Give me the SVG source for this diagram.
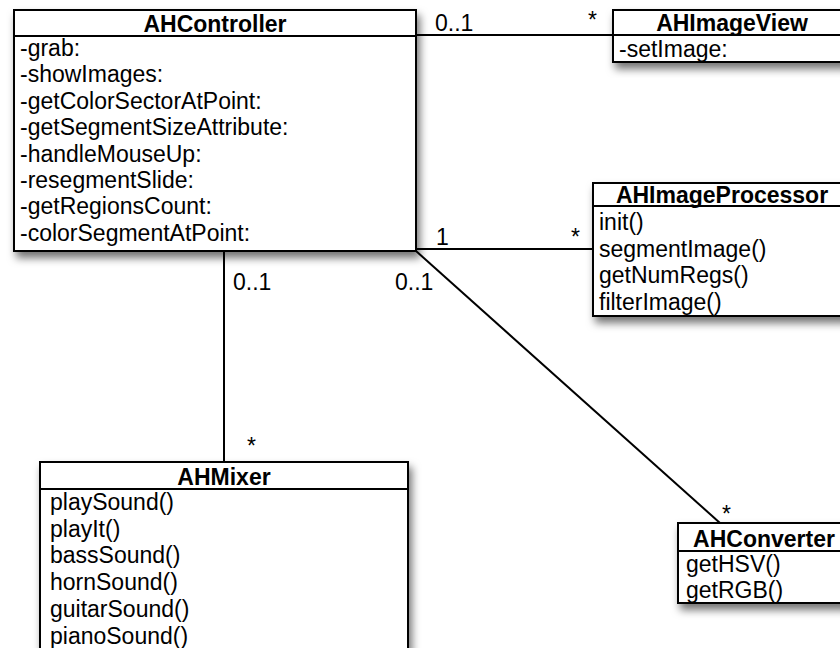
<svg xmlns="http://www.w3.org/2000/svg" width="840" height="648" viewBox="0 0 840 648">
<style>
text{font-family:"Liberation Sans",Arial,Helvetica,sans-serif;font-size:23px;fill:#000}
.t{font-weight:bold;text-anchor:middle}
.box{fill:#fff;stroke:#000;stroke-width:2}
.sep{stroke:#000;stroke-width:2}
.c{stroke:#000;stroke-width:2;fill:none}
</style>
<defs>
<filter id="sh" x="-10%" y="-10%" width="130%" height="140%">
<feDropShadow dx="3" dy="6" stdDeviation="4" flood-color="#000" flood-opacity="0.55"/>
</filter>
</defs>
<g id="connectors">
<line class="c" x1="416" y1="35" x2="613" y2="35"/>
<line class="c" x1="416" y1="249" x2="593" y2="249"/>
<line class="c" x1="224" y1="251" x2="224" y2="462"/>
<line class="c" x1="416" y1="251" x2="720" y2="523"/>
<text x="435" y="31">0..1</text>
<text x="588" y="28">*</text>
<text x="436" y="245">1</text>
<text x="571" y="245">*</text>
<text x="233" y="290">0..1</text>
<text x="395" y="290">0..1</text>
<text x="247" y="454">*</text>
<text x="722" y="522">*</text>
</g>
<g id="AHController">
<rect class="box" filter="url(#sh)" x="14" y="10" width="402" height="241"/>
<line class="sep" x1="14" y1="36" x2="416" y2="36"/>
<text class="t" x="215" y="32">AHController</text>
<text x="20" y="56">-grab:</text>
<text x="20" y="82.4">-showImages:</text>
<text x="20" y="108.8">-getColorSectorAtPoint:</text>
<text x="20" y="135.2">-getSegmentSizeAttribute:</text>
<text x="20" y="161.6">-handleMouseUp:</text>
<text x="20" y="188">-resegmentSlide:</text>
<text x="20" y="214.4">-getRegionsCount:</text>
<text x="20" y="240.8">-colorSegmentAtPoint:</text>
</g>
<g id="AHImageView">
<rect class="box" filter="url(#sh)" x="613" y="10" width="238" height="52"/>
<line class="sep" x1="613" y1="35" x2="851" y2="35"/>
<text class="t" x="732" y="31">AHImageView</text>
<text x="619" y="57">-setImage:</text>
</g>
<g id="AHImageProcessor">
<rect class="box" filter="url(#sh)" x="593" y="183" width="259" height="133"/>
<line class="sep" x1="593" y1="206" x2="852" y2="206"/>
<text class="t" x="722" y="203">AHImageProcessor</text>
<text x="599" y="230">init()</text>
<text x="599" y="256.5">segmentImage()</text>
<text x="599" y="283">getNumRegs()</text>
<text x="599" y="309.5">filterImage()</text>
</g>
<g id="AHMixer">
<rect class="box" filter="url(#sh)" x="40" y="462" width="368" height="200"/>
<line class="sep" x1="40" y1="489" x2="408" y2="489"/>
<text class="t" x="224" y="485">AHMixer</text>
<text x="50" y="510">playSound()</text>
<text x="50" y="536.7">playIt()</text>
<text x="50" y="563.4">bassSound()</text>
<text x="50" y="590.1">hornSound()</text>
<text x="50" y="616.8">guitarSound()</text>
<text x="50" y="643.5">pianoSound()</text>
</g>
<g id="AHConverter">
<rect class="box" filter="url(#sh)" x="678" y="523" width="174" height="80"/>
<line class="sep" x1="678" y1="551" x2="852" y2="551"/>
<text class="t" x="764" y="547">AHConverter</text>
<text x="686" y="572">getHSV()</text>
<text x="686" y="598">getRGB()</text>
</g>
</svg>
